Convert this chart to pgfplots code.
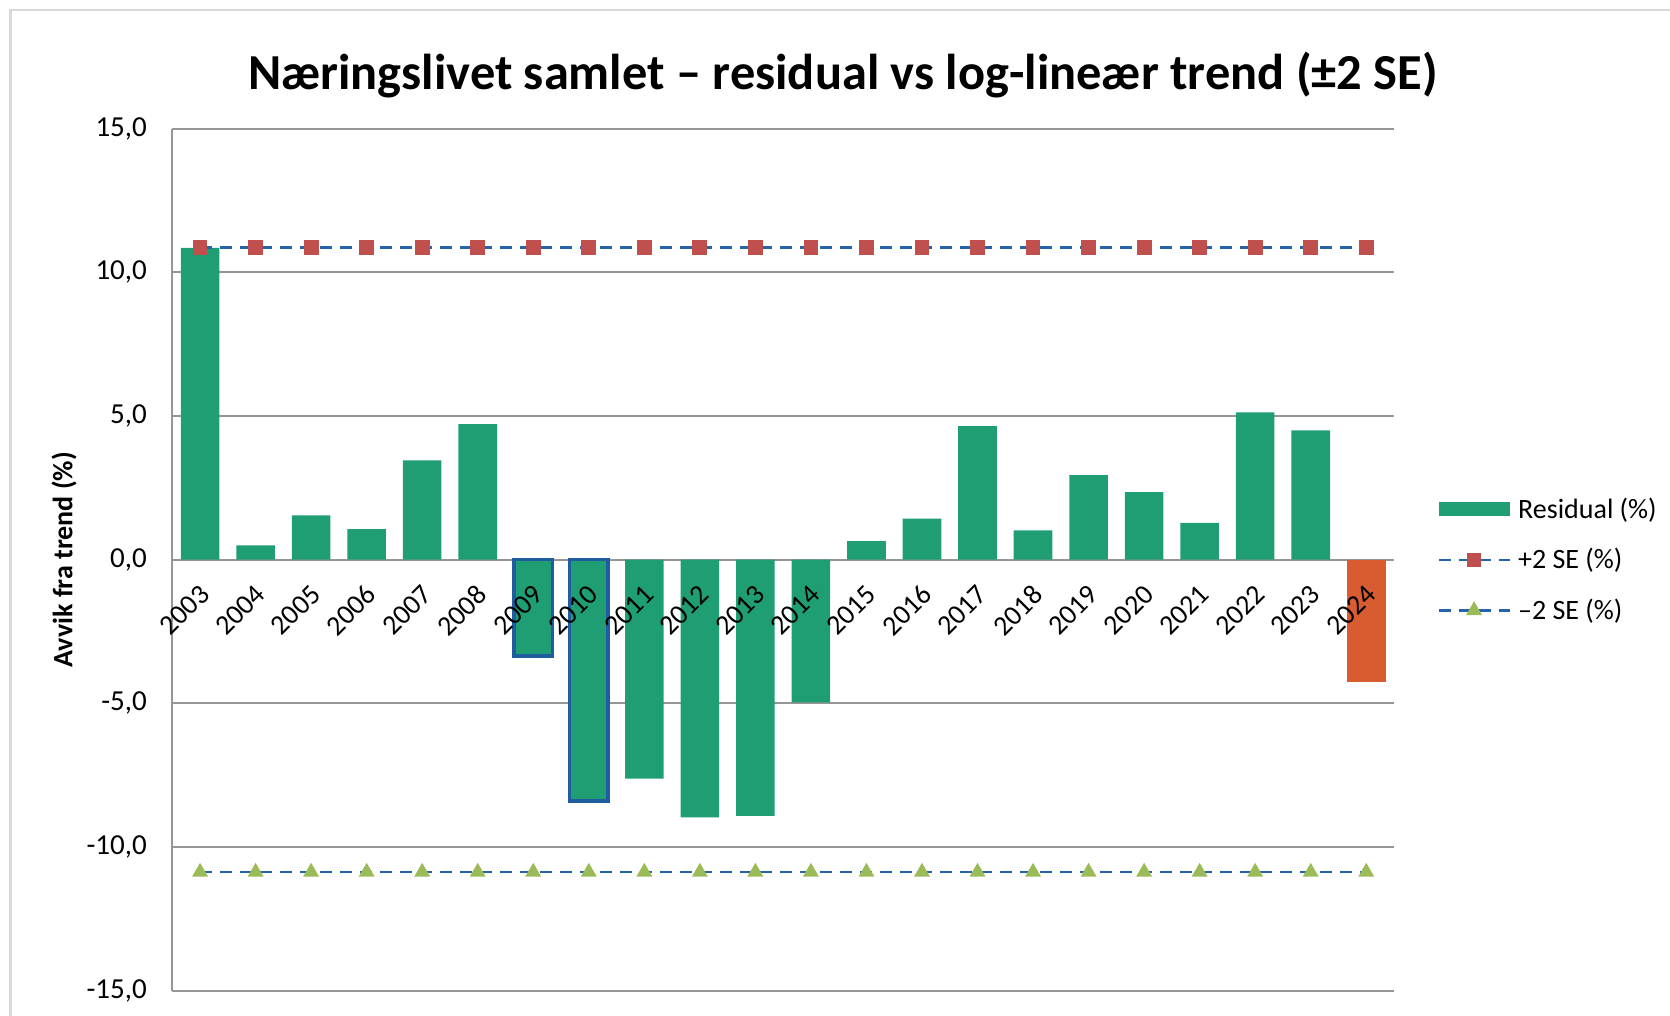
\documentclass[border=0pt]{standalone}
\usepackage{pgfplots}
\pgfplotsset{compat=1.18}
\usepackage{pgfplotstable}
\usepackage{fontspec}
\setmainfont{Carlito}

\definecolor{barG}{HTML}{1F9E74}
\definecolor{barO}{HTML}{D95B30}
\definecolor{hiB}{HTML}{1F5CA0}
\definecolor{seL}{HTML}{2364AA}
\definecolor{mkR}{HTML}{C0504D}
\definecolor{mkG}{HTML}{9BBB59}
\definecolor{gridG}{HTML}{969696}
\definecolor{bordG}{HTML}{D9D9D9}

\pgfplotstableread{
x y
0 10.85
1 0.50
2 1.54
3 1.06
4 3.46
5 4.72
6 -3.35
7 -8.40
8 -7.62
9 -8.97
10 -8.92
11 -4.97
12 0.65
13 1.43
14 4.65
15 1.02
16 2.94
17 2.35
18 1.28
19 5.13
20 4.50
}\resid

\pgfplotstableread{
x y
6 -3.35
7 -8.40
}\highl

\pgfplotstableread{
x y
21 -4.25
}\last

\pgfplotstableread{
x up lo
0 10.87 -10.87
1 10.87 -10.87
2 10.87 -10.87
3 10.87 -10.87
4 10.87 -10.87
5 10.87 -10.87
6 10.87 -10.87
7 10.87 -10.87
8 10.87 -10.87
9 10.87 -10.87
10 10.87 -10.87
11 10.87 -10.87
12 10.87 -10.87
13 10.87 -10.87
14 10.87 -10.87
15 10.87 -10.87
16 10.87 -10.87
17 10.87 -10.87
18 10.87 -10.87
19 10.87 -10.87
20 10.87 -10.87
21 10.87 -10.87
}\se

\pgfplotsset{
  mylineleg/.style={legend image code/.code={\draw[mark repeat=2,mark phase=2,##1] plot coordinates {(0pt,0pt) (17.75pt,0pt) (35.5pt,0pt)}; \path (37.1pt,0pt);}},
  mybarleg/.style={legend image code/.code={\fill[barG] (0pt,-3.5pt) rectangle (35.5pt,3.5pt); \path (37.1pt,0pt);}},
  basegeom/.style={
    at={(0pt,0pt)}, anchor=south west,
    scale only axis, width=610.85pt, height=431pt,
    xmin=-0.5, xmax=21.5, ymin=-15, ymax=15,
    major tick length=0pt,
  },
}

\newcommand{\tfont}{\fontsize{14.5}{17}\selectfont}
\newcommand{\xfont}{\fontsize{14}{17}\selectfont}
\newcommand{\lfont}{\fontsize{14}{17}\selectfont}

\begin{document}
\begin{tikzpicture}
\begin{axis}[
  basegeom,
  axis x line*=middle, axis y line*=left,
  axis line style={gridG, line width=1.1pt},
  ymajorgrids, grid style={gridG, line width=1.1pt},
  ytick={-15,-10,-5,0,5,10,15},
  yticklabels={{-15,0},{-10,0},{-5,0},{0,0},{5,0},{10,0},{15,0}},
  yticklabel style={font=\tfont, xshift=-9.2pt},
  xtick={0,...,21},
  xticklabels={},
  ylabel={Avvik fra trend (\%)},
  every axis y label/.style={at={(axis description cs:0,0.5)}, xshift=-54.15pt, rotate=90, anchor=center, font=\lfont\bfseries},
  legend style={draw=none, fill=none, at={(1.035,0.4997)}, anchor=west, font=\lfont, row sep=9.5pt, inner xsep=0pt, cells={anchor=west}},
  legend cell align=left,
]
\addplot[ybar, bar width=19.3pt, bar shift=0pt, fill=barG, draw=none, mybarleg]
  table[x=x,y=y] {\resid};
\addlegendentry{Residual (\%)}
\addplot[ybar, bar width=19.3pt, bar shift=0pt, fill=barG, draw=hiB, line width=1.75pt, forget plot]
  table[x=x,y=y] {\highl};
\addplot[ybar, bar width=19.3pt, bar shift=0pt, fill=barO, draw=none, forget plot]
  table[x=x,y=y] {\last};
\addplot[sharp plot, seL, line width=1.4pt, dash pattern=on 6pt off 4pt,
  mark=square*, mark size=3pt, mark options={solid, fill=mkR, draw=mkR}, mylineleg]
  table[x=x,y=up] {\se};
\addlegendentry{+2 SE (\%)}
\addplot[sharp plot, seL, line width=1.4pt, dash pattern=on 6pt off 4pt,
  mark=triangle*, mark size=3.2pt, mark options={solid, fill=mkG, draw=mkG}, mylineleg]
  table[x=x,y=lo] {\se};
\addlegendentry{–2 SE (\%)}
\end{axis}
% overlay axis: only the year labels, drawn on top of the bars
\begin{axis}[
  basegeom,
  axis x line*=middle, axis y line=none,
  axis line style={draw=none},
  ytick=\empty,
  xtick={0,...,21},
  xticklabels={2003,2004,2005,2006,2007,2008,2009,2010,2011,2012,2013,2014,2015,2016,2017,2018,2019,2020,2021,2022,2023,2024},
  xticklabel style={font=\xfont, xshift=4.8pt, yshift=-12.8pt, rotate=45, anchor=east},
]
\end{axis}
\node[font=\fontsize{25.2}{30}\selectfont\bfseries, anchor=base] at (335.35pt,450.5pt) {Næringslivet samlet – residual vs log-lineær trend (±2 SE)};
\draw[bordG, line width=1.3pt] (-80.9pt,-40pt) -- (-80.9pt,490.35pt) -- (800pt,490.35pt);
\pgfresetboundingbox
\useasboundingbox (-86.15pt,-12.65pt) rectangle (748.85pt,495.35pt);
\end{tikzpicture}
\end{document}
